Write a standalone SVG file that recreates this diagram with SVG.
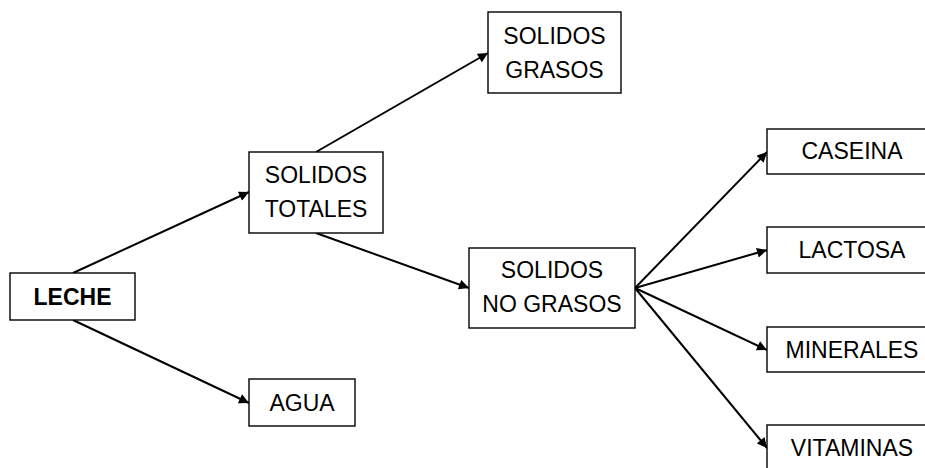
<svg xmlns="http://www.w3.org/2000/svg" width="925" height="468" viewBox="0 0 925 468">
<style>
.box{fill:#fff;stroke:#000;stroke-width:1.4}
.t{font-family:"Liberation Sans",Arial,sans-serif;font-size:23px;fill:#000;text-anchor:middle}
.b{font-weight:bold}
.c{stroke:#000;stroke-width:2;fill:none;marker-end:url(#ah)}
</style>
<defs>
<marker id="ah" viewBox="0 0 10 10" refX="10" refY="5" markerWidth="11" markerHeight="10" markerUnits="userSpaceOnUse" orient="auto">
<path d="M0,0 L10,5 L0,10 z" fill="#000"/>
</marker>
</defs>
<rect width="925" height="468" fill="#fff"/>
<g id="connectors">
<line class="c" x1="73" y1="273" x2="249" y2="192"/>
<line class="c" x1="73" y1="320" x2="249" y2="403"/>
<line class="c" x1="316" y1="152" x2="488" y2="53"/>
<line class="c" x1="316" y1="233" x2="469" y2="288"/>
<line class="c" x1="635" y1="288" x2="767" y2="152"/>
<line class="c" x1="635" y1="288" x2="767" y2="250"/>
<line class="c" x1="635" y1="288" x2="767" y2="350"/>
<line class="c" x1="635" y1="288" x2="767" y2="448"/>
</g>
<g id="leche"><rect class="box" x="10" y="273" width="125" height="47"/><text class="t b" x="72.5" y="305">LECHE</text></g>
<g id="agua"><rect class="box" x="249" y="379" width="106" height="47"/><text class="t" x="302" y="411">AGUA</text></g>
<g id="solidos-totales"><rect class="box" x="249" y="152" width="134" height="81"/><text class="t" x="316" y="183">SOLIDOS</text><text class="t" x="316" y="217">TOTALES</text></g>
<g id="solidos-grasos"><rect class="box" x="488" y="12" width="133" height="81"/><text class="t" x="554.5" y="44">SOLIDOS</text><text class="t" x="554.5" y="78">GRASOS</text></g>
<g id="solidos-no-grasos"><rect class="box" x="469" y="248" width="166" height="80"/><text class="t" x="552" y="278">SOLIDOS</text><text class="t" x="552" y="312">NO GRASOS</text></g>
<g id="caseina"><rect class="box" x="767" y="129" width="170" height="45"/><text class="t" x="852" y="159">CASEINA</text></g>
<g id="lactosa"><rect class="box" x="767" y="227" width="170" height="46"/><text class="t" x="852" y="258">LACTOSA</text></g>
<g id="minerales"><rect class="box" x="767" y="327" width="170" height="45"/><text class="t" x="852" y="358">MINERALES</text></g>
<g id="vitaminas"><rect class="box" x="767" y="425" width="170" height="50"/><text class="t" x="852" y="456">VITAMINAS</text></g>
</svg>
